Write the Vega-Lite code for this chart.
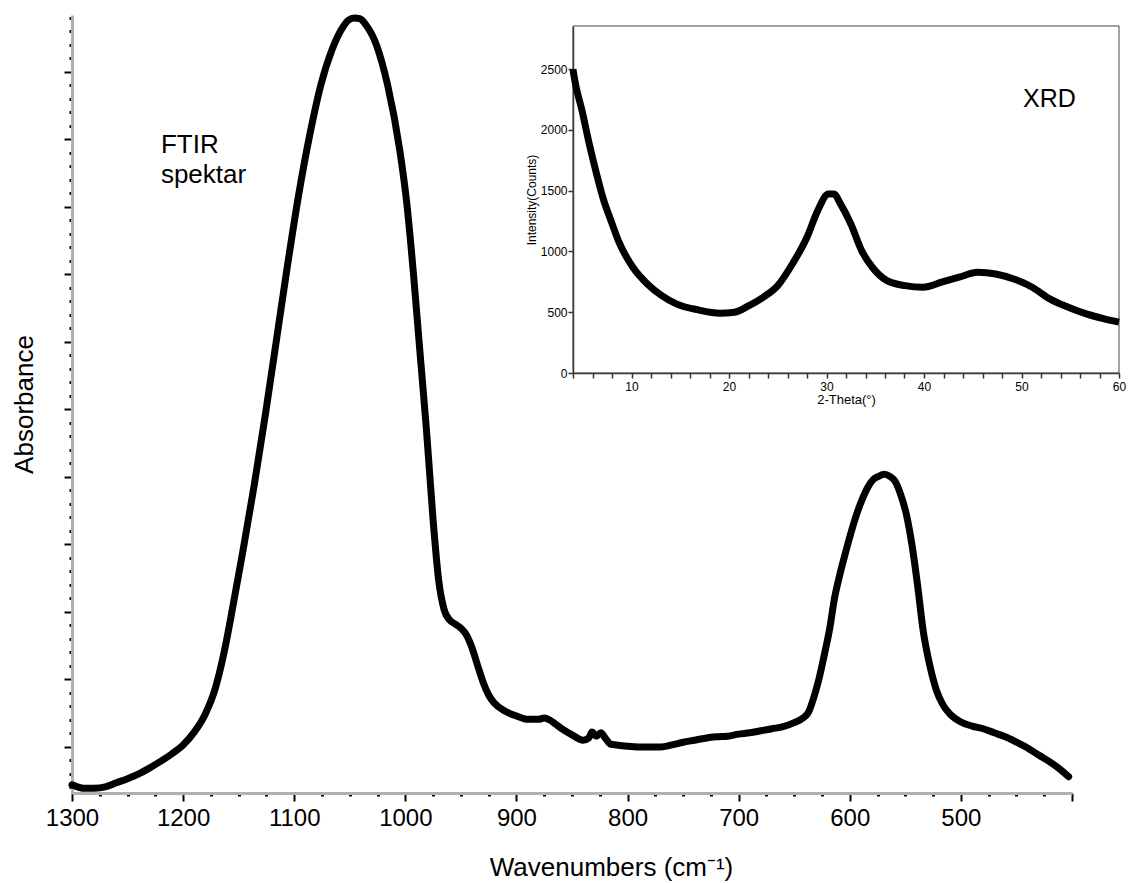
{
  "$schema": "https://vega.github.io/schema/vega-lite/v6.json",
  "width": 1000,
  "height": 778,
  "autosize": {"type": "none"},
  "padding": {"left": 72, "top": 15, "right": 56, "bottom": 90},
  "background": "white",
  "config": {"view": {"stroke": null}, "font": "Liberation Sans"},
  "datasets": {
    "ftir": [
      {"wn": 1300, "A": 0.044}, {"wn": 1290, "A": 0.039}, {"wn": 1280, "A": 0.039}, {"wn": 1270, "A": 0.041},
      {"wn": 1260, "A": 0.047}, {"wn": 1250, "A": 0.053}, {"wn": 1240, "A": 0.060}, {"wn": 1230, "A": 0.069},
      {"wn": 1220, "A": 0.079}, {"wn": 1210, "A": 0.090}, {"wn": 1200, "A": 0.103}, {"wn": 1190, "A": 0.122},
      {"wn": 1180, "A": 0.149}, {"wn": 1171, "A": 0.187}, {"wn": 1163, "A": 0.241}, {"wn": 1155, "A": 0.310},
      {"wn": 1146, "A": 0.392}, {"wn": 1136, "A": 0.488}, {"wn": 1126, "A": 0.592}, {"wn": 1116, "A": 0.703},
      {"wn": 1106, "A": 0.814}, {"wn": 1096, "A": 0.918}, {"wn": 1086, "A": 1.007}, {"wn": 1076, "A": 1.081},
      {"wn": 1066, "A": 1.133}, {"wn": 1056, "A": 1.167}, {"wn": 1051, "A": 1.177}, {"wn": 1046, "A": 1.180},
      {"wn": 1041, "A": 1.179}, {"wn": 1036, "A": 1.171}, {"wn": 1026, "A": 1.140}, {"wn": 1016, "A": 1.081},
      {"wn": 1005, "A": 0.984}, {"wn": 999, "A": 0.910}, {"wn": 993, "A": 0.807}, {"wn": 987, "A": 0.688},
      {"wn": 981, "A": 0.570}, {"wn": 975, "A": 0.436}, {"wn": 970, "A": 0.347}, {"wn": 965, "A": 0.303},
      {"wn": 960, "A": 0.288}, {"wn": 955, "A": 0.282}, {"wn": 950, "A": 0.276}, {"wn": 945, "A": 0.266},
      {"wn": 940, "A": 0.247}, {"wn": 935, "A": 0.221}, {"wn": 930, "A": 0.196}, {"wn": 925, "A": 0.177},
      {"wn": 920, "A": 0.165}, {"wn": 910, "A": 0.153}, {"wn": 900, "A": 0.146}, {"wn": 890, "A": 0.141},
      {"wn": 880, "A": 0.141}, {"wn": 875, "A": 0.143}, {"wn": 870, "A": 0.140}, {"wn": 865, "A": 0.134},
      {"wn": 860, "A": 0.128}, {"wn": 850, "A": 0.118}, {"wn": 840, "A": 0.110}, {"wn": 835, "A": 0.113},
      {"wn": 832, "A": 0.122}, {"wn": 828, "A": 0.116}, {"wn": 824, "A": 0.121}, {"wn": 820, "A": 0.113},
      {"wn": 815, "A": 0.104}, {"wn": 810, "A": 0.103}, {"wn": 800, "A": 0.101}, {"wn": 790, "A": 0.100},
      {"wn": 780, "A": 0.100}, {"wn": 770, "A": 0.100}, {"wn": 760, "A": 0.103}, {"wn": 750, "A": 0.107},
      {"wn": 740, "A": 0.110}, {"wn": 730, "A": 0.113}, {"wn": 720, "A": 0.115}, {"wn": 710, "A": 0.116},
      {"wn": 700, "A": 0.119}, {"wn": 690, "A": 0.121}, {"wn": 680, "A": 0.124}, {"wn": 670, "A": 0.127},
      {"wn": 660, "A": 0.130}, {"wn": 650, "A": 0.136}, {"wn": 642, "A": 0.143}, {"wn": 637, "A": 0.152},
      {"wn": 633, "A": 0.170}, {"wn": 628, "A": 0.199}, {"wn": 623, "A": 0.236}, {"wn": 618, "A": 0.276},
      {"wn": 614, "A": 0.318}, {"wn": 609, "A": 0.355}, {"wn": 604, "A": 0.387}, {"wn": 599, "A": 0.417},
      {"wn": 594, "A": 0.444}, {"wn": 589, "A": 0.466}, {"wn": 584, "A": 0.484}, {"wn": 579, "A": 0.496},
      {"wn": 574, "A": 0.501}, {"wn": 569, "A": 0.504}, {"wn": 564, "A": 0.501}, {"wn": 559, "A": 0.493},
      {"wn": 554, "A": 0.473}, {"wn": 549, "A": 0.444}, {"wn": 544, "A": 0.399}, {"wn": 539, "A": 0.340},
      {"wn": 534, "A": 0.273}, {"wn": 528, "A": 0.221}, {"wn": 522, "A": 0.184}, {"wn": 516, "A": 0.162},
      {"wn": 510, "A": 0.149}, {"wn": 500, "A": 0.137}, {"wn": 490, "A": 0.131}, {"wn": 480, "A": 0.127},
      {"wn": 470, "A": 0.121}, {"wn": 460, "A": 0.115}, {"wn": 450, "A": 0.107}, {"wn": 440, "A": 0.0985},
      {"wn": 430, "A": 0.088}, {"wn": 420, "A": 0.078}, {"wn": 410, "A": 0.066}, {"wn": 403, "A": 0.056}
    ],
    "xrd": [
      {"t": 4.0, "I": 2500}, {"t": 4.1, "I": 2445}, {"t": 4.93, "I": 2158}, {"t": 5.67, "I": 1884},
      {"t": 6.42, "I": 1637}, {"t": 7.16, "I": 1418}, {"t": 7.9, "I": 1253}, {"t": 8.65, "I": 1089},
      {"t": 10.14, "I": 870}, {"t": 11.63, "I": 733}, {"t": 13.1, "I": 637}, {"t": 14.6, "I": 569},
      {"t": 16.84, "I": 519}, {"t": 19.07, "I": 492}, {"t": 20.56, "I": 500}, {"t": 22.05, "I": 555},
      {"t": 23.5, "I": 623}, {"t": 25.0, "I": 719}, {"t": 26.5, "I": 897}, {"t": 28.0, "I": 1117},
      {"t": 29.1, "I": 1336}, {"t": 30.2, "I": 1473}, {"t": 30.8, "I": 1473}, {"t": 31.35, "I": 1404},
      {"t": 32.5, "I": 1226}, {"t": 33.6, "I": 1007}, {"t": 34.7, "I": 870}, {"t": 36.2, "I": 760},
      {"t": 38.05, "I": 719}, {"t": 39.9, "I": 706}, {"t": 41.8, "I": 747}, {"t": 43.6, "I": 788},
      {"t": 45.5, "I": 829}, {"t": 47.35, "I": 815}, {"t": 49.2, "I": 774}, {"t": 51.1, "I": 706},
      {"t": 52.9, "I": 610}, {"t": 54.8, "I": 541}, {"t": 56.65, "I": 486}, {"t": 58.5, "I": 445},
      {"t": 60.0, "I": 418}
    ]
  },
  "resolve": {
    "scale": {"x": "independent", "y": "independent"},
    "axis": {"x": "independent", "y": "independent"}
  },
  "layer": [
    {
      "layer": [
        {
          "data": {"name": "ftir"},
          "mark": {"type": "line", "color": "black", "strokeWidth": 7, "strokeCap": "round", "strokeJoin": "round", "interpolate": "monotone"},
          "encoding": {
            "x": {
              "field": "wn", "type": "quantitative",
              "scale": {"domain": [400, 1300], "reverse": true, "nice": false, "zero": false},
              "axis": {
                "orient": "bottom",
                "title": "Wavenumbers (cm⁻¹)",
                "titleX": 539,
                "format": "d",
                "tickCount": 1000,
                "values": [1300,1275,1250,1225,1200,1175,1150,1125,1100,1075,1050,1025,1000,975,950,925,900,875,850,825,800,775,750,725,700,675,650,625,600,575,550,525,500,475,450,425,400],
                "labelExpr": "(datum.value % 100 === 0 && datum.value >= 500) ? datum.label : ''",
                "grid": false,
                "domainColor": "#b0b0b0", "domainWidth": 3,
                "tickColor": "black",
                "tickSize": {"condition": {"test": "datum.value % 100 === 0", "value": 8}, "value": 3},
                "tickWidth": {"condition": {"test": "datum.value % 100 === 0", "value": 2}, "value": 3},
                "labelFont": "Liberation Sans", "labelFontSize": 24, "labelColor": "black", "labelPadding": 5,
                "labelFlush": false, "labelOverlap": false,
                "titleFont": "Liberation Sans", "titleFontSize": 26, "titleFontWeight": "normal", "titleColor": "black", "titlePadding": 24
              }
            },
            "y": {
              "field": "A", "type": "quantitative",
              "scale": {"domain": [0.0318, 1.1844], "nice": false, "zero": false},
              "axis": {
                "orient": "left",
                "title": "Absorbance",
                "tickCount": 1000,
                "values": [0.04,0.06,0.08,0.1,0.12,0.14,0.16,0.18,0.2,0.22,0.24,0.26,0.28,0.3,0.32,0.34,0.36,0.38,0.4,0.42,0.44,0.46,0.48,0.5,0.52,0.54,0.56,0.58,0.6,0.62,0.64,0.66,0.68,0.7,0.72,0.74,0.76,0.78,0.8,0.82,0.84,0.86,0.88,0.9,0.92,0.94,0.96,0.98,1.0,1.02,1.04,1.06,1.08,1.1,1.12,1.14,1.16,1.18],
                "labels": false,
                "grid": false,
                "domainColor": "#b0b0b0", "domainWidth": 3,
                "tickColor": "black",
                "tickSize": {"condition": {"test": "abs(datum.value*10 - round(datum.value*10)) < 0.001", "value": 8}, "value": 3},
                "tickWidth": {"condition": {"test": "abs(datum.value*10 - round(datum.value*10)) < 0.001", "value": 2}, "value": 3},
                "titleFont": "Liberation Sans", "titleFontSize": 26, "titleFontWeight": "normal", "titleColor": "black", "titlePadding": 26
              }
            }
          }
        },
        {
          "data": {"values": [{}]},
          "mark": {"type": "text", "text": ["FTIR", "spektar"], "font": "Liberation Sans", "fontSize": 26, "align": "left", "baseline": "alphabetic", "lineHeight": 30, "color": "black"},
          "encoding": {
            "x": {"datum": 1220, "type": "quantitative"},
            "y": {"datum": 0.98, "type": "quantitative"}
          }
        }
      ]
    },
    {
      "layer": [
        {
          "data": {"values": [{}]},
          "mark": {"type": "rect", "fill": null, "stroke": "#444444", "strokeWidth": 1},
          "encoding": {
            "x": {"datum": 4, "type": "quantitative"},
            "x2": {"datum": 60},
            "y": {"datum": 0, "type": "quantitative"},
            "y2": {"datum": 2855}
          }
        },
        {
          "data": {"name": "xrd"},
          "mark": {"type": "line", "color": "black", "strokeWidth": 7, "strokeJoin": "round", "interpolate": "monotone"},
          "encoding": {
            "x": {
              "field": "t", "type": "quantitative",
              "scale": {"domain": [4, 60], "range": [501, 1047], "nice": false, "zero": false},
              "axis": {
                "orient": "bottom", "offset": -420,
                "title": "2-Theta(°)",
                "tickCount": 1000,
                "format": "d",
                "values": [4,6,8,10,12,14,16,18,20,22,24,26,28,30,32,34,36,38,40,42,44,46,48,50,52,54,56,58,60],
                "labelExpr": "datum.value % 10 === 0 ? datum.label : ''",
                "grid": false,
                "domainColor": "#333333", "domainWidth": 1.5,
                "tickColor": "#333333", "tickSize": 5, "tickWidth": 1.5,
                "labelFont": "Liberation Sans", "labelFontSize": 12, "labelColor": "black", "labelPadding": 3,
                "labelFlush": false, "labelOverlap": false,
                "titleFont": "Liberation Sans", "titleFontSize": 13, "titleFontWeight": "normal", "titleColor": "black", "titlePadding": 1
              }
            },
            "y": {
              "field": "I", "type": "quantitative",
              "scale": {"domain": [0, 2855], "range": [358, 11], "nice": false, "zero": false},
              "axis": {
                "orient": "left", "offset": -501,
                "title": "Intensity(Counts)",
                "tickCount": 1000,
                "format": "d",
                "values": [0, 500, 1000, 1500, 2000, 2500],
                "grid": false,
                "domainColor": "#333333", "domainWidth": 1.5,
                "tickColor": "#333333", "tickSize": 5, "tickWidth": 1.5,
                "labelFont": "Liberation Sans", "labelFontSize": 12, "labelColor": "black", "labelPadding": 1,
                "labelFlush": false, "labelOverlap": false,
                "titleFont": "Liberation Sans", "titleFontSize": 12, "titleFontWeight": "normal", "titleColor": "black", "titlePadding": 2
              }
            }
          }
        },
        {
          "data": {"values": [{}]},
          "mark": {"type": "text", "text": "XRD", "font": "Liberation Sans", "fontSize": 25, "align": "left", "baseline": "alphabetic", "color": "black"},
          "encoding": {
            "x": {"datum": 50.15, "type": "quantitative"},
            "y": {"datum": 2189, "type": "quantitative"}
          }
        }
      ]
    }
  ]
}
